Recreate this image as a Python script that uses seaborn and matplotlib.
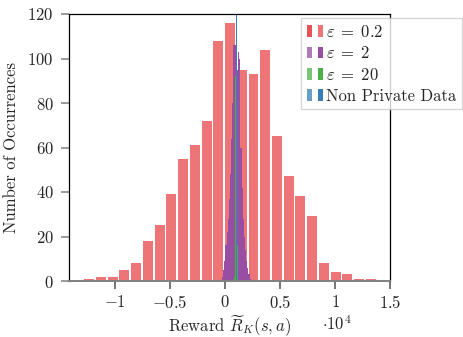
import matplotlib
matplotlib.use("Agg")
import matplotlib.pyplot as plt
import numpy as np
import pandas as pd
import seaborn as sns
from matplotlib.legend_handler import HandlerBase
from matplotlib.patches import Patch, Rectangle
from matplotlib.ticker import FuncFormatter

# epsilon = 0.2 -- 25 bins, first left edge and bin width
red_start = -12880
red_width = 1067
red_counts = [1, 2, 2, 5, 8, 18, 25, 39, 55, 61, 72, 108, 116,
              95, 93, 104, 65, 47, 38, 29, 8, 4, 3, 1, 1]

# epsilon = 2 -- 25 narrow bins
purple_start = -282
purple_width = 105
purple_counts = [2, 5, 9, 16, 22, 28, 37, 48, 64, 80, 106, 106, 100,
                 95, 103, 100, 60, 42, 28, 20, 14, 9, 6, 3, 1]

# epsilon = 20 -- only a few visible slivers
green_edges = [840, 905, 970, 1040, 1110, 1175]
green_counts = [2, 92, 0, 0, 16]

# non private data -- every run lands in one bin
blue_edges = [970, 1095]
blue_counts = [1000]

labels = [r"$\varepsilon \;=\; 0.2$", r"$\varepsilon \;=\; 2$",
          r"$\varepsilon \;=\; 20$", "Non Private Data"]
colors = ["#e41a1c", "#984ea3", "#4daf4a", "#377eb8"]

x_ticks = [-10000, -5000, 0, 5000, 10000, 15000]
y_ticks = [0, 20, 40, 60, 80, 100, 120]

sns.set_style("ticks")
plt.rcParams.update({
    "font.family": ["cmr10"],
    "mathtext.fontset": "cm",
    "axes.unicode_minus": False,
    "axes.formatter.use_mathtext": True,
    "font.size": 12,
})


class TwoBars(HandlerBase):
    """pgfplots-like ybar legend image: two slim bars."""

    def create_artists(self, legend, orig_handle, xdescent, ydescent,
                       width, height, fontsize, trans):
        fc = orig_handle.get_facecolor()
        bw = width * 0.3
        left = Rectangle((-xdescent, -ydescent), bw, height, facecolor=fc,
                         alpha=0.75, linewidth=0, transform=trans)
        right = Rectangle((-xdescent + width - bw, -ydescent), bw, height,
                          facecolor=fc, linewidth=0, transform=trans)
        return [left, right]


def draw_hist(ax, edges, counts, color, alpha, shrink):
    edges = [float(e) for e in edges]
    centers = [(a + b) / 2 for a, b in zip(edges[:-1], edges[1:])]
    df = pd.DataFrame({"value": centers, "count": counts})
    sns.histplot(data=df, x="value", weights="count", bins=edges, color=color,
                 alpha=alpha, shrink=shrink, linewidth=0, ax=ax)


fig = plt.figure(figsize=(4.63, 3.37), dpi=100)
ax = fig.add_axes([69 / 463, 1 - 281 / 337, 321 / 463, 267 / 337])

red_edges = red_start + red_width * np.arange(len(red_counts) + 1)
purple_edges = purple_start + purple_width * np.arange(len(purple_counts) + 1)

draw_hist(ax, red_edges, red_counts, colors[0], 0.6, 0.85)
draw_hist(ax, purple_edges, purple_counts, colors[1], 1.0, 1.0)
draw_hist(ax, green_edges, green_counts, colors[2], 1.0, 1.0)
draw_hist(ax, blue_edges, blue_counts, colors[3], 1.0, 1.0)

ax.set_xlim(-14180, 15000)
ax.set_ylim(0, 120)
ax.set_xticks(x_ticks)
ax.set_yticks(y_ticks)
ax.xaxis.set_major_formatter(FuncFormatter(lambda v, _: f"${v / 1e4:g}$"))
ax.yaxis.set_major_formatter(FuncFormatter(lambda v, _: f"${v:g}$"))

for side in ["left", "top", "right"]:
    ax.spines[side].set_visible(True)
    ax.spines[side].set_color("black")
    ax.spines[side].set_linewidth(0.9)
ax.spines["bottom"].set_color("#808080")
ax.spines["bottom"].set_linewidth(1.4)
ax.tick_params(axis="y", direction="out", length=6, width=1.1, color="#808080", pad=5)
ax.tick_params(axis="x", direction="out", length=6, width=1.1, color="#505050", pad=3.5)
ax.tick_params(labelsize=12)

ax.set_xlabel(r"Reward $\widetilde{R}_K(s,a)$", fontsize=12, labelpad=1.5)
ax.set_ylabel("Number of Occurrences", fontsize=12, labelpad=6)
fig.text(322 / 463, 1 - 330 / 337, r"$\cdot 10^4$", fontsize=12,
         ha="left", va="baseline")

handles = [Patch(facecolor=c, alpha=0.6 if i == 0 else 1.0) for i, c in enumerate(colors)]
leg = ax.legend(handles, labels, handler_map={Patch: TwoBars()},
                loc="upper right", bbox_to_anchor=(1.224, 0.985),
                frameon=True, fancybox=False, framealpha=0.8,
                edgecolor="#cccccc", fontsize=12, handlelength=0.95,
                handleheight=0.7, handletextpad=0.2, labelspacing=0.33,
                borderpad=0.35, borderaxespad=0.0)
leg.get_frame().set_linewidth(0.9)

fig.savefig("out.png", dpi=100)
